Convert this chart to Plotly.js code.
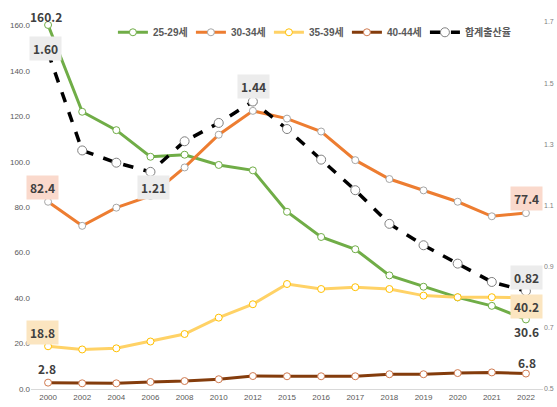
<!DOCTYPE html>
<html><head><meta charset="utf-8">
<script src="https://cdn.plot.ly/plotly-3.0.1.min.js"></script>
<style>html,body{margin:0;padding:0;background:#fff}#chart{width:557px;height:407px}</style>
</head><body><div id="chart"></div>
<script>
const years = ["2000","2002","2004","2006","2008","2010","2012","2015","2016","2017","2018","2019","2020","2021","2022"];
const age2529 = [160.2,122.0,113.9,102.2,103.1,98.6,96.2,78.0,66.9,61.5,50.0,45.0,40.3,36.6,30.6];
const age3034 = [82.4,71.8,79.8,85.0,97.5,111.9,122.4,119.0,113.3,100.7,92.4,87.4,82.4,76.0,77.4];
const age3539 = [18.8,17.4,17.9,20.9,24.2,31.4,37.3,46.2,44.0,44.8,44.0,41.1,40.4,40.4,40.2];
const age4044 = [2.8,2.5,2.5,3.1,3.5,4.3,5.7,5.6,5.6,5.6,6.5,6.5,7.0,7.3,6.8];
const tfr = [1.60,1.28,1.24,1.21,1.31,1.37,1.44,1.35,1.25,1.15,1.04,0.97,0.91,0.85,0.82];
const seriesNames = ["25-29세","30-34세","35-39세","40-44세","합계출산율"];

const FONT = '"Noto Sans CJK KR", "Noto Sans", sans-serif';
const LEGFONT = '"Liberation Sans", "Noto Sans CJK KR", sans-serif';
function ageTrace(name, y, color, mline) {
  return {type:'scatter', mode:'lines+markers', name:name, x:years, y:y,
    line:{color:color, width:3},
    marker:{symbol:'circle', size:7, color:'#ffffff', line:{color:mline, width:1}}};
}
const traces = [
  ageTrace(seriesNames[0], age2529, '#70AD47', '#70AD47'),
  ageTrace(seriesNames[1], age3034, '#ED7D31', '#a6a6a6'),
  ageTrace(seriesNames[2], age3539, '#FFD266', '#FFC000'),
  ageTrace(seriesNames[3], age4044, '#843C0C', '#d07a50'),
  {type:'scatter', mode:'lines+markers', name:seriesNames[4], x:years, y:tfr, yaxis:'y2',
   legendwidth:64,
   line:{color:'#000000', width:3.5, dash:'dash'},
   marker:{symbol:'circle', size:9, color:'#ffffff', line:{color:'#808080', width:1}}}
];

function lab(i, series, yref, text, yshift, bg, xshift) {
  return {x:i, y:series[i], xref:'x', yref:yref, text:text, showarrow:false,
    yshift:yshift, xshift:xshift||0, bgcolor:bg||'rgba(0,0,0,0)', borderpad:3,
    font:{family:FONT, size:12, color:'#404040', weight:'bold'}};
}
const last = years.length-1;
const annotations = [
  lab(0, age2529, 'y', age2529[0].toFixed(1), 8, null, -2),
  lab(0, tfr, 'y2', tfr[0].toFixed(2), 4, '#ececec', -3),
  lab(0, age3034, 'y', age3034[0].toFixed(1), 14, '#fad9cc', -6),
  lab(0, age3539, 'y', age3539[0].toFixed(1), 14, '#fbe5c0', -6),
  lab(0, age4044, 'y', age4044[0].toFixed(1), 14, null, -1),
  lab(3, tfr, 'y2', tfr[3].toFixed(2), -16, '#ececec', 3),
  lab(6, tfr, 'y2', tfr[6].toFixed(2), 15, '#ececec', 1),
  lab(last, age3034, 'y', age3034[last].toFixed(1), 15, '#fad9cc', 1),
  lab(last, tfr, 'y2', tfr[last].toFixed(2), 14, '#ececec', 1),
  lab(last, age3539, 'y', age3539[last].toFixed(1), -9, '#fbe5c0', 1),
  lab(last, age2529, 'y', age2529[last].toFixed(1), -12, null, 1),
  lab(last, age4044, 'y', age4044[last].toFixed(1), 11, null, 1)
];

const layout = {
  width:557, height:407, paper_bgcolor:'#ffffff', plot_bgcolor:'#ffffff',
  margin:{l:31, r:14, t:22, b:18},
  font:{family:FONT, color:'#595959'},
  showlegend:true,
  legend:{orientation:'h', x:0.16, xanchor:'left', y:0.972, yanchor:'middle',
    font:{family:LEGFONT, size:10, color:'#595959', weight:'bold'}, bgcolor:'rgba(0,0,0,0)',
    itemwidth:30, entrywidth:33, entrywidthmode:'pixels', tracegroupgap:0},
  xaxis:{type:'category', range:[-0.5,14.5], showgrid:false, zeroline:false,
    showline:true, linecolor:'#d9d9d9', linewidth:1, ticks:'',
    tickfont:{family:'"Liberation Sans", sans-serif', size:8, color:'#595959'}},
  yaxis:{range:[0,161.5], tick0:0, dtick:20, tickformat:'.1f', showgrid:false, zeroline:false,
    showline:false, ticks:'',
    tickfont:{family:'"Liberation Sans", sans-serif', size:8, color:'#595959'}},
  yaxis2:{overlaying:'y', side:'right', range:[0.5, 1.7], tick0:0.5, dtick:0.2, tickformat:'.1f',
    showgrid:false, zeroline:false, showline:false, ticks:'',
    tickfont:{family:'"Liberation Sans", sans-serif', size:7, color:'#7f7f7f'}},
  annotations:annotations
};
Plotly.newPlot('chart', traces, layout, {displayModeBar:false, staticPlot:true});
</script></body></html>
